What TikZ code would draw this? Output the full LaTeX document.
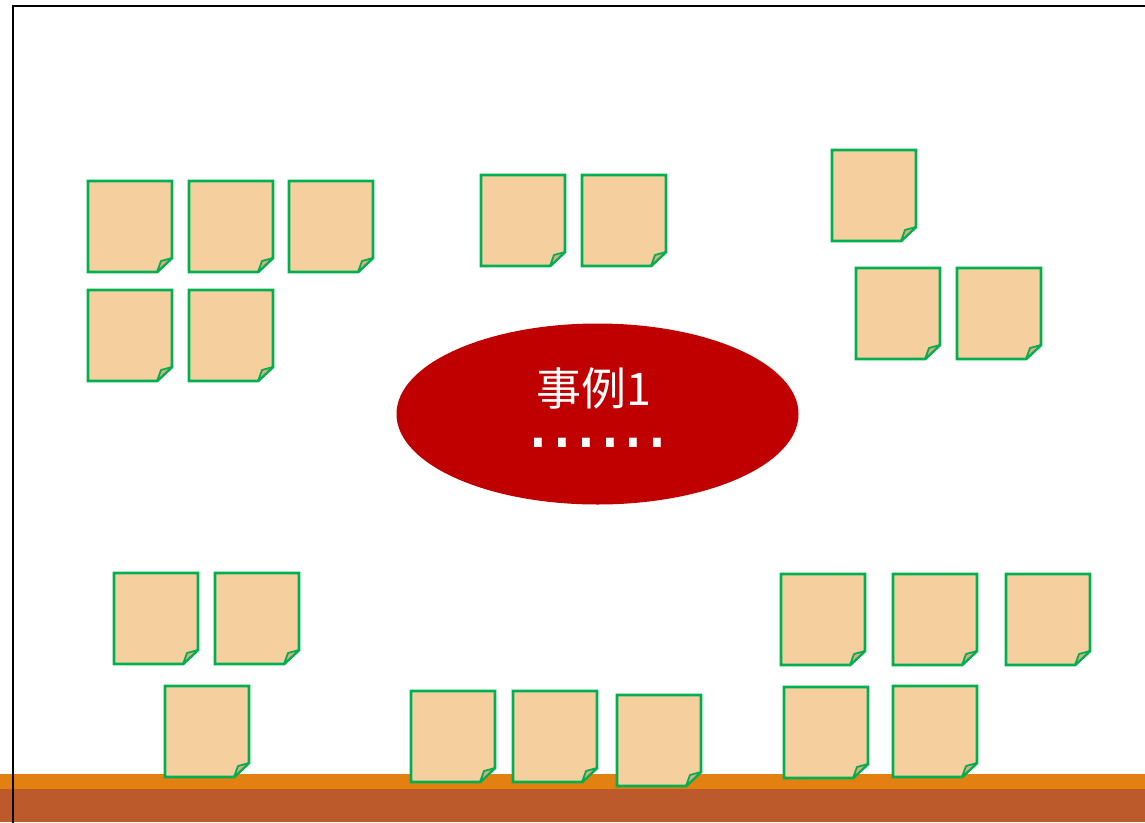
\documentclass[tikz,border=0pt]{standalone}
\usepackage{fontspec}
\newfontfamily\cjk{Noto Sans CJK SC}
\newfontfamily\dvs{DejaVu Sans}
\definecolor{notefill}{HTML}{F6CF9F}
\definecolor{notefold}{HTML}{D9AE84}
\definecolor{notegreen}{HTML}{00B050}
\definecolor{ovalred}{HTML}{C00000}
\definecolor{barorange}{HTML}{E38012}
\definecolor{barbrown}{HTML}{BD5A2B}
\newcommand\stickynote[2]{%
  \begin{scope}[shift={(#1,#2)}]
    \draw[notebody] (0,0) -- (84,0) -- (84,77) -- (69,91) -- (0,91) -- cycle;
    \draw[notecurl] (84,77) -- (73,80) -- (69,91) -- cycle;
  \end{scope}}
\begin{document}
\begin{tikzpicture}[x=1pt,y=-1pt,
  notebody/.style={fill=notefill,draw=notegreen,line width=2.8pt,line join=miter},
  notecurl/.style={fill=notefold,draw=notegreen,line width=1.8pt,line join=round},
  ovaltext/.style={text=white,inner sep=0pt}]
\useasboundingbox (0,0) rectangle (1145,822);
\fill[white] (0,0) rectangle (1145,822);
% bottom bars
\fill[barorange] (0,774) rectangle (1145,789);
\fill[barbrown] (0,789) rectangle (1145,822);
% central ellipse
\path[fill=ovalred] (597.5,414) ellipse [x radius=201, y radius=90.5];
\node[ovaltext,anchor=center,font=\cjk\fontsize{45}{50}\selectfont] (title) at (594,388) {事例1};
\node[ovaltext,anchor=base,font=\dvs\fontsize{75}{75}\selectfont] (dots) at (598,447) {......};
% group top-left
\stickynote{88}{181}
\stickynote{189}{181}
\stickynote{289}{181}
\stickynote{88}{290}
\stickynote{189}{290}
% group top-middle
\stickynote{481}{175}
\stickynote{582}{175}
% group top-right
\stickynote{832}{150}
\stickynote{856}{268}
\stickynote{957}{268}
% group bottom-left
\stickynote{114}{573}
\stickynote{215}{573}
\stickynote{165}{686}
% group bottom-middle
\stickynote{411}{691}
\stickynote{513}{691}
\stickynote{617}{695}
% group bottom-right
\stickynote{781}{574}
\stickynote{893}{574}
\stickynote{1006}{574}
\stickynote{784}{687}
\stickynote{893}{686}
% frame
\draw[black,line width=2.6pt] (13,830) -- (13,6) -- (1160,6);
\end{tikzpicture}
\end{document}
